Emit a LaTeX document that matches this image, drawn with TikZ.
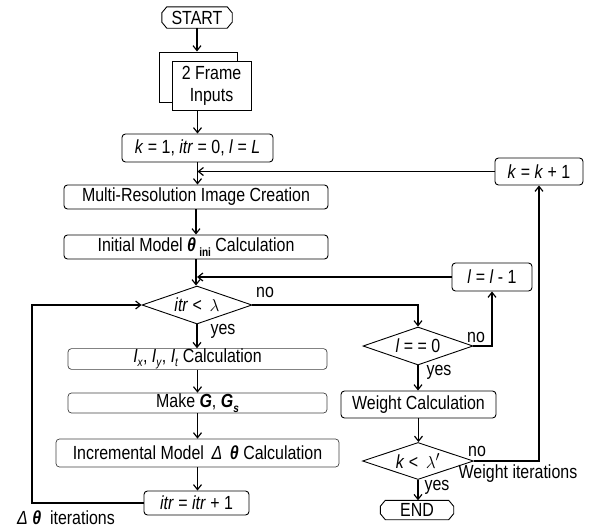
\documentclass[tikz,border=0pt]{standalone}
\usepackage{fontspec}
\setmainfont{Liberation Sans}[FakeStretch=0.84]
\usetikzlibrary{shapes.geometric,arrows.meta}
\newcommand\sbs[1]{\raisebox{-0.45ex}{\fontsize{12}{12}\selectfont #1}}
\newcommand\bth{\textbf{\textit{θ}}}
\newcommand\tri{\textit{Δ}}
\newcommand\termpath[1]{%
  \draw[line width=0.9pt] ([xshift=5pt]#1.north west) -- ([xshift=-5pt]#1.north east)
    -- ([yshift=-6pt]#1.north east) -- ([yshift=6pt]#1.south east)
    -- ([xshift=-5pt]#1.south east) -- ([xshift=5pt]#1.south west)
    -- ([yshift=6pt]#1.south west) -- ([yshift=-6pt]#1.north west) -- cycle;}
\tikzset{
  every node/.append style={font=\fontsize{19}{22}\selectfont},
  box/.style={draw, line width=0.9pt, rounded corners=3.5pt, inner sep=0pt},
  lbox/.style={box, draw=black!75, line width=0.7pt},
  dia/.style={diamond, draw, line width=0.9pt, inner sep=0pt, aspect=2.9},
  term/.style={rectangle, inner sep=0pt},
  conn/.style={line width=1.2pt, -{Straight Barb[length=5pt,width=8pt]}},
  lab/.style={inner sep=0pt}
}
\begin{document}
\begin{tikzpicture}[x=1pt,y=-1pt]
\useasboundingbox (0,0) rectangle (589,530);
% nodes
\node[term, minimum width=70pt, minimum height=21pt] (start) at (197,17.5) {START};
\termpath{start}
\node[draw, line width=0.9pt, minimum width=78pt, minimum height=50pt] (fb) at (198,77) {};
\node[draw, line width=0.9pt, fill=white, minimum width=79pt, minimum height=49pt, align=center, inner sep=0pt] (fi) at (211.5,85.5) {2 Frame\\Inputs};
\node[box, minimum width=151pt, minimum height=28pt] (init) at (197.5,148) {\textit{k} = 1, \textit{itr} = 0, \textit{l} = \textit{L}};
\node[box, minimum width=264pt, minimum height=24pt] (mr) at (196,197) {Multi-Resolution Image Creation};
\node[box, minimum width=264pt, minimum height=24pt] (im) at (196,247) {Initial Model \bth\,\sbs{\textbf{ini}} Calculation};
\node[dia, minimum width=110pt, minimum height=38pt] (d1) at (197,305) {\textit{itr} <\, $\lambda$};
\node[lbox, minimum width=259pt, minimum height=20pt] (ix) at (197.5,359) {\textit{I}\sbs{\textit{x}}, \textit{I}\sbs{\textit{y}}, \textit{I}\sbs{\textit{t}} Calculation};
\node[lbox, minimum width=259pt, minimum height=20pt] (mg) at (197.5,403) {Make \textbf{\textit{G}}, \textbf{\textit{G}}\sbs{\textbf{\textit{s}}}};
\node[lbox, minimum width=283pt, minimum height=28pt] (inc) at (197.5,453) {Incremental Model \,\tri\, \bth\ Calculation};
\node[box, minimum width=105pt, minimum height=24pt] (itr) at (196.5,503) {\textit{itr} = \textit{itr} + 1};
\node[dia, minimum width=110pt, minimum height=38pt] (d2) at (418,346) {\textit{l} = = 0};
\node[box, minimum width=155pt, minimum height=27pt] (wc) at (418.5,404.5) {Weight Calculation};
\node[dia, minimum width=111pt, minimum height=37pt] (d3) at (418,461) {\textit{k} <\, $\lambda^{\prime}$};
\node[term, minimum width=73pt, minimum height=19pt] (end) at (417,510) {END};
\termpath{end}
\node[box, minimum width=80pt, minimum height=28pt] (ll) at (492,277) {\textit{l} = \textit{l} - 1};
\node[box, minimum width=88pt, minimum height=27pt] (kk) at (539,171.5) {\textit{k} = \textit{k} + 1};
\coordinate (lp) at (32,503);
% labels
\node[lab] at (265,292) {no};
\node[lab] at (223,331) {yes};
\node[lab] at (476,337) {no};
\node[lab] at (439,372) {yes};
\node[lab] at (477,451) {no};
\node[lab] at (437,487) {yes};
\node[lab] at (518,474) {Weight iterations};
\node[lab] at (66,518) {\tri\ \bth\ \ iterations};
% connectors
\draw[conn] (start.south) -- (start.south |- fb.north);
\draw[conn] (fi.south -| init.north) -- (init.north);
\draw[conn] (init.south) -- (init.south |- mr.north);
\draw[conn] (mr.south) -- (im.north);
\draw[conn] (im.south) -- (im.south |- d1.north);
\draw[conn] (kk.west) -- (kk.west -| init.south);
\draw[conn] (ll.west) -- (ll.west -| d1.north);
\draw[conn] (d1.east) -| (d2.north);
\draw[conn] (d1.south) -- (d1.south |- ix.north);
\draw[conn] (ix.south) -- (mg.north);
\draw[conn] (mg.south) -- (inc.north);
\draw[conn] (inc.south) -- (inc.south |- itr.north);
\draw[conn] (itr.west) -- (lp) |- (d1.west);
\draw[conn] (d2.east) -| (ll.south);
\draw[conn] (d2.south) -- (d2.south |- wc.north);
\draw[conn] (wc.south) -- (wc.south |- d3.north);
\draw[conn] (d3.east) -| (kk.south);
\draw[conn] (d3.south) -- (d3.south |- end.north);
\end{tikzpicture}
\end{document}
